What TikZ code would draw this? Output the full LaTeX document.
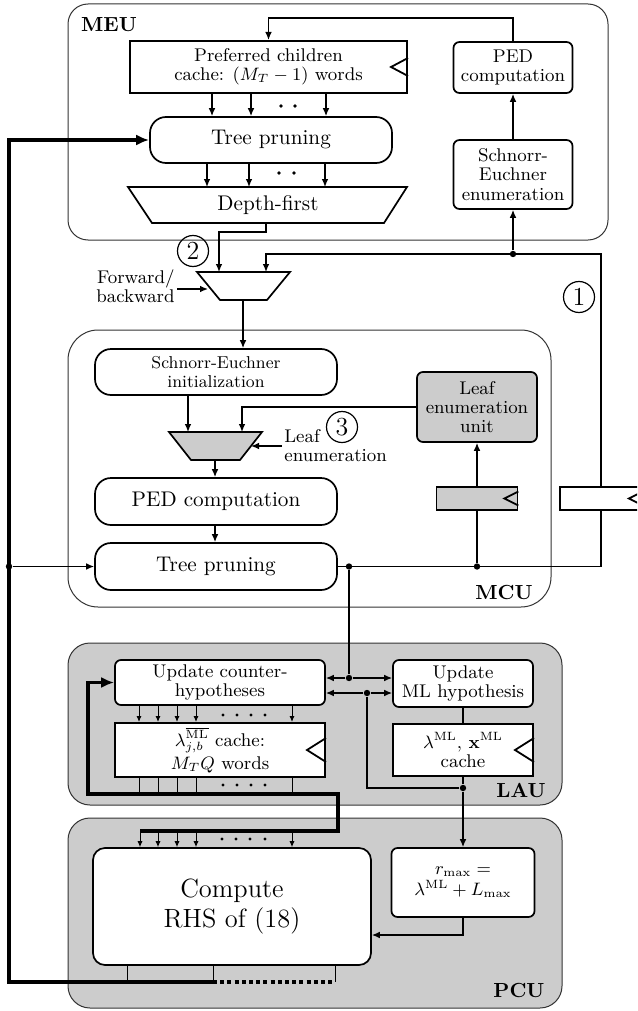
\documentclass[tikz,border=0pt]{standalone}
\usetikzlibrary{arrows.meta,calc}
\definecolor{boxgray}{gray}{0.8}
\definecolor{framegray}{gray}{0.2}
\newcommand{\myfbig}{\fontsize{10.6}{12.5}\selectfont}
\newcommand{\myfmed}{\fontsize{9.2}{9.6}\selectfont}
\newcommand{\myfsml}{\fontsize{8.6}{9.6}\selectfont}
\newcommand{\myfhuge}{\fontsize{13.2}{15}\selectfont}
\newcommand{\myflab}{\fontsize{10.2}{12}\selectfont\bfseries}
\newcommand{\myfnum}{\fontsize{13}{13}\selectfont}
\begin{document}
\begin{tikzpicture}[x=0.5pt,y=-0.5pt,
  container/.style={draw=framegray, line width=0.5pt, inner sep=0},
  rbox/.style={draw, line width=0.85pt, rounded corners=3pt, fill=white, align=center, inner sep=0},
  pill/.style={rbox, rounded corners=8pt},
  cachebox/.style={draw, line width=1pt, fill=white, align=center, inner sep=0},
  conn/.style={line width=0.7pt},
  arr/.style={conn, -{Latex[length=4pt,width=3.4pt]}},
  busarr/.style={line width=0.5pt, -{Latex[length=3pt,width=2.6pt]}},
  busline/.style={line width=0.5pt},
  bus/.style={line width=1.8pt},
  bigarr/.style={bus, -{Latex[length=6.5pt,width=5.5pt]}},
  jdot/.style={circle, fill=black, inner sep=0, minimum size=3.2pt},
  numc/.style={circle, draw, line width=0.6pt, inner sep=0, minimum size=15.5pt, font=\myfnum},
  muxs/.style={draw, line width=0.85pt},
  lab/.style={font=\myflab, inner sep=0},
  clk/.style={line width=0.9pt}
]
\useasboundingbox (0,0) rectangle (637,1011);
\clip (0,0) rectangle (637,1011);

% ---------- containers ----------
\node[container, rounded corners=10pt, minimum width=270pt, minimum height=118pt] (meu) at (338,122) {};
\node[container, rounded corners=15pt, minimum width=241.5pt, minimum height=138.5pt] (mcu) at (309.5,468.5) {};
\node[container, fill=boxgray, rounded corners=11pt, minimum width=247pt, minimum height=81pt] (lau) at (315,724) {};
\node[container, fill=boxgray, rounded corners=11pt, minimum width=247pt, minimum height=95pt] (pcu) at (315,913) {};
\node[lab] (meulab) at (109,25) {MEU};
\node[lab] (mculab) at (504,592) {MCU};
\node[lab] (laulab) at (521,790) {LAU};
\node[lab] (pculab) at (519,990) {PCU};

% ---------- MEU ----------
\node[cachebox, minimum width=138.5pt, minimum height=26pt, font=\myfmed] (cacheA) at (268.5,67) {Preferred children\\cache: $(M_T-1)$ words};
\draw[clk] ($(cacheA.east)+(0,-9)$) -- ($(cacheA.east)+(-17,0)$) -- ($(cacheA.east)+(0,9)$);
\node[rbox, minimum width=59.5pt, minimum height=25.5pt, font=\myfmed] (pedA) at (513,67.5) {PED\\computation};
\node[rbox, minimum width=59.5pt, minimum height=34.5pt, font=\myfmed] (seA) at (513,174.5) {Schnorr-\\Euchner\\enumeration};
\node[pill, minimum width=121pt, minimum height=23pt, font=\myfbig] (tpA) at (271,140) {Tree pruning};
\draw[muxs, fill=white] (128,187) -- (407,187) -- (384,223) -- (152,223) -- cycle;
\node[font=\myfbig] (dfA) at (268,205) {Depth-first};
\coordinate (dfAtop) at (268,187);
\coordinate (dfAbot) at (266,223);

\draw[arr] (pedA.north) -- (pedA.north |- 0,18) -| (cacheA.north);
\draw[arr] (seA.north) -- (pedA.south);
\foreach \x in {212,251,326} \draw[arr] (cacheA.south -| \x,0) -- (tpA.north -| \x,0);
\foreach \x in {281,295} \fill (\x,106) circle (0.9pt);
\foreach \x in {207,249,325} \draw[arr] (tpA.south -| \x,0) -- (dfAtop -| \x,0);
\foreach \x in {279,294} \fill (\x,173) circle (0.9pt);

% ---------- first multiplexer ----------
\draw[muxs, fill=white] (197,272) -- (290,272) -- (267,300) -- (220,300) -- cycle;
\coordinate (m1inL) at (219,272);
\coordinate (m1inR) at (266,272);
\coordinate (m1out) at (243,300);
\coordinate (m1side) at (208,289);
\node[numc] (n2) at (193,251) {2};
\node[font=\myfmed, align=right, anchor=east, inner sep=1pt] (fb) at (177,286) {Forward/\\backward};
\draw[arr] (fb.east |- m1side) -- (m1side);
\draw[arr] (dfAbot) -- ++(0,9) -| (m1inL);

% ---------- MCU ----------
\node[pill, minimum width=121pt, minimum height=23pt, font=\myfsml] (seB) at (216,372) {Schnorr-Euchner\\initialization};
\draw[muxs, fill=boxgray] (169,432) -- (262,432) -- (240,460) -- (191,460) -- cycle;
\coordinate (m2inL) at (188,432);
\coordinate (m2inR) at (242,432);
\coordinate (m2out) at (215,460);
\coordinate (m2side) at (251,446);
\node[pill, minimum width=121pt, minimum height=23.5pt, font=\myfbig] (pedB) at (216,501.5) {PED computation};
\node[pill, minimum width=121pt, minimum height=23.5pt, font=\myfbig] (tpB) at (216,566.5) {Tree pruning};
\node[rbox, fill=boxgray, minimum width=60pt, minimum height=35pt, font=\myfmed] (leafU) at (477,407) {Leaf\\enumeration\\unit};
\node[draw, fill=boxgray, line width=0.85pt, minimum width=40.5pt, minimum height=11.5pt, inner sep=0] (regG) at (477,498.5) {};
\draw[clk] ($(regG.east)+(0,-7)$) -- ($(regG.east)+(-14,0)$) -- ($(regG.east)+(0,7)$);
\node[font=\myfmed, align=left, anchor=west, inner sep=1pt] (leL) at (282,446) {Leaf\\enumeration};
\node[numc] (n3) at (342,427) {3};

\draw[arr] (m1out) -- (seB.north -| m1out);
\draw[arr] (seB.south -| m2inL) -- (m2inL);
\draw[arr] (leafU.west) -| (m2inR);
\draw[arr] (leL.west) -- (m2side);
\draw[arr] (m2out) -- (pedB.north -| m2out);
\draw[arr] (pedB.south -| m2out) -- (tpB.north -| m2out);
\draw[arr] (regG.north) -- (leafU.south);

% long loop from MCU tree pruning back to first multiplexer
\coordinate (c1) at (601,254);
\draw[arr] (tpB.east) -| (c1) -| (m1inR);
\node[jdot] (d1) at (513,254) {};
\node[jdot] (d2) at (tpB.east -| 349,0) {};
\node[jdot] (d3) at (tpB.east -| 477,0) {};
\draw[arr] (d1) -- (seA.south);
\draw[conn] (d3) -- (regG.south);
\node[numc] (n1) at (579,297) {1};
\node[draw, fill=white, line width=0.85pt, minimum width=41pt, minimum height=11.5pt, inner sep=0] (regW) at (601,498.5) {};
\draw[clk] ($(regW.east)+(0,-7)$) -- ($(regW.east)+(-14,0)$) -- ($(regW.east)+(0,7)$);

% ---------- LAU ----------
\node[rbox, minimum width=105pt, minimum height=22.5pt, font=\myfmed] (uch) at (220,682.5) {Update counter-\\hypotheses};
\node[cachebox, minimum width=105pt, minimum height=27pt, font=\myfmed] (lc) at (220,750) {$\lambda_{j,b}^{\overline{\mathrm{ML}}}$ cache:\\[2pt]$M_TQ$ words};
\draw[clk] ($(lc.east)+(0,-12)$) -- ($(lc.east)+(-19,0)$) -- ($(lc.east)+(0,12)$);
\node[rbox, minimum width=70pt, minimum height=23.5pt, font=\myfmed] (uml) at (463,683.5) {Update\\ML hypothesis};
\node[cachebox, minimum width=70pt, minimum height=26pt, font=\myfmed] (mlc) at (463,750) {$\lambda^{\mathrm{ML}}$, $\mathbf{x}^{\mathrm{ML}}$\\cache};
\draw[clk] ($(mlc.east)+(0,-12)$) -- ($(mlc.east)+(-19,0)$) -- ($(mlc.east)+(0,12)$);

\foreach \x in {139,158,177,196,292} \draw[busarr] (uch.south -| \x,0) -- (lc.north -| \x,0);
\foreach \x in {223,237,251,265} \fill (\x,715) circle (0.8pt);
\foreach \x in {139,158,177,196,292} \draw[busline] (lc.south -| \x,0) -- (\x,794);
\foreach \x in {223,237,251,265} \fill (\x,785) circle (0.8pt);

\node[jdot] (d5) at (349,678) {};
\node[jdot] (d6) at (463,788) {};
\node[jdot] (d7) at (367,693) {};
\draw[conn] (d2) -- (d5);
\draw[arr] (d5) -- (uml.west |- d5);
\draw[arr] (d5) -- (uch.east |- d5);
\draw[conn] (uml.south) -- (mlc.north);
\draw[conn] (mlc.south) -- (d6);
\draw[conn] (d6) -| (d7);
\draw[arr] (d7) -- (uml.west |- d7);
\draw[arr] (d7) -- (uch.east |- d7);

% ---------- PCU ----------
\node[pill, rounded corners=6pt, minimum width=139pt, minimum height=58.5pt, font=\myfhuge] (crhs) at (232,906.5) {Compute\\RHS of (18)};
\node[rbox, minimum width=71.5pt, minimum height=34.5pt, font=\myfmed] (rmax) at (463,882.5) {$r_{\max} =$\\[1pt]$\lambda^{\mathrm{ML}} + L_{\max}$};
\draw[arr] (d6) -- (rmax.north);
\draw[arr] (rmax.south) |- (crhs.east |- 0,935);
\foreach \x in {140,158,177,196,292} \draw[busarr] (\x,831) -- (crhs.north -| \x,0);
\foreach \x in {222,236,250,265} \fill (\x,839) circle (0.8pt);
\draw[bigarr] (140,831) -| (338,794) -| (uch.west -| 88,0) -- (uch.west);

\coordinate (bl) at (213,982);
\foreach \x in {127,213,335} \draw[busline] (crhs.south -| \x,0) -- (\x,982);
\draw[bus, dash pattern=on 2pt off 1.6pt] (bl) -- (335,982);
\draw[bigarr] (bl) -| (tpA.west -| 9,0) -- (tpA.west);
\node[jdot] (d4) at (9,566.5) {};
\draw[arr] (d4) -- (tpB.west);
\end{tikzpicture}
\end{document}
